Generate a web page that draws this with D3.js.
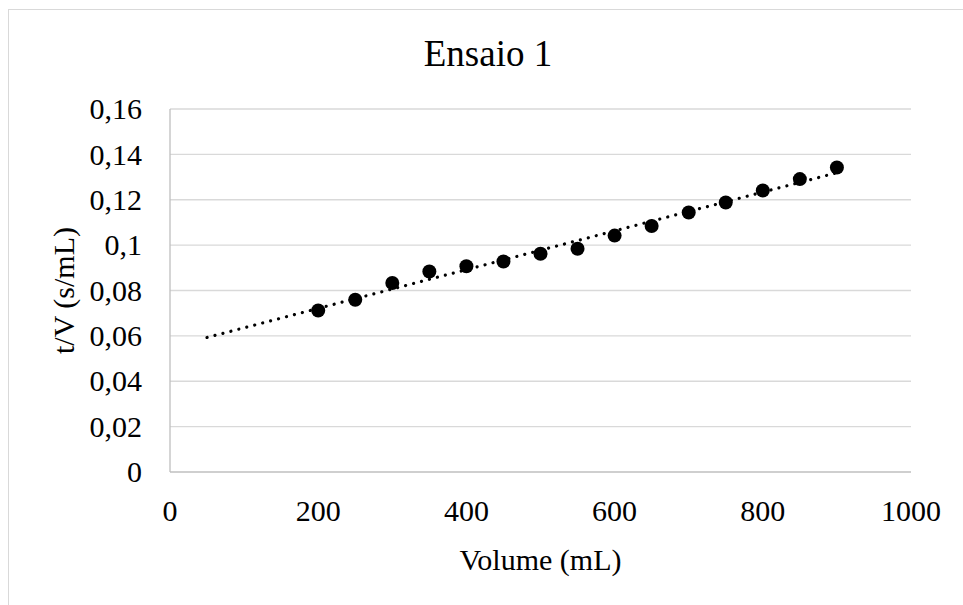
<!DOCTYPE html>
<html>
<head>
<meta charset="utf-8">
<script src="https://cdn.jsdelivr.net/npm/d3@7/dist/d3.min.js"></script>
<style>
  html, body { margin: 0; padding: 0; background: #fff; }
</style>
</head>
<body>
<svg id="chart" width="963" height="605" font-family="'Liberation Serif', 'Times New Roman', 'DejaVu Serif', serif"></svg>
<script>
// ─── Ensaio 1: t/V vs Volume ───────────────────────────
const volumes = [200, 250, 300, 350, 400, 450, 500, 550, 600, 650, 700, 750, 800, 850, 900];
const tPerV = [0.0712, 0.0759, 0.0833, 0.0884, 0.0907, 0.0928, 0.0962, 0.0984,
               0.1042, 0.1084, 0.1144, 0.1188, 0.1241, 0.1291, 0.1342];
const xTicks = [0, 200, 400, 600, 800, 1000];
const yTicks = [0, 0.02, 0.04, 0.06, 0.08, 0.1, 0.12, 0.14, 0.16];
const trendFrom = 50; // linear trendline, forecast backward to 50 mL

const SERIF = "'Liberation Serif', 'Times New Roman', serif";
const svg = d3.select('#chart');
const W = 963, H = 605;
const plot = { left: 170, right: 911, top: 109, bottom: 472 };

// chart area border (left + top visible)
svg.append('rect')
  .attr('x', 8.5).attr('y', 9.5)
  .attr('width', W + 20).attr('height', H + 20)
  .attr('fill', '#fff').attr('stroke', '#d9d9d9').attr('stroke-width', 1);

const x = d3.scaleLinear().domain([0, 1000]).range([plot.left, plot.right]);
const y = d3.scaleLinear().domain([0, 0.16]).range([plot.bottom, plot.top]);

// gridlines
svg.append('g')
  .selectAll('line')
  .data(yTicks.filter(d => d > 0))
  .enter().append('line')
  .attr('x1', plot.left).attr('x2', plot.right)
  .attr('y1', d => y(d)).attr('y2', d => y(d))
  .attr('stroke', '#d9d9d9').attr('stroke-width', 1.3);

// axes lines
svg.append('line')
  .attr('x1', plot.left).attr('x2', plot.right)
  .attr('y1', y(0)).attr('y2', y(0))
  .attr('stroke', '#bfbfbf').attr('stroke-width', 1.3);
svg.append('line')
  .attr('x1', plot.left).attr('x2', plot.left)
  .attr('y1', y(0)).attr('y2', y(0.16))
  .attr('stroke', '#bfbfbf').attr('stroke-width', 1.3);

const fmtY = d => d3.format('~g')(d).replace('.', ',');

// y tick labels
svg.append('g')
  .selectAll('text')
  .data(yTicks)
  .enter().append('text')
  .attr('x', 142)
  .attr('y', d => y(d))
  .attr('dy', '0.34em')
  .attr('text-anchor', 'end')
  .attr('font-family', SERIF)
  .attr('font-size', 30)
  .text(fmtY);

// x tick labels
svg.append('g')
  .selectAll('text')
  .data(xTicks)
  .enter().append('text')
  .attr('x', d => x(d))
  .attr('y', 521)
  .attr('text-anchor', 'middle')
  .attr('font-family', SERIF)
  .attr('font-size', 30)
  .text(d => d);

// title + axis titles
svg.append('text')
  .attr('x', 488).attr('y', 66)
  .attr('text-anchor', 'middle')
  .attr('font-family', SERIF)
  .attr('font-size', 37)
  .text('Ensaio 1');

svg.append('text')
  .attr('x', x(500)).attr('y', 570)
  .attr('text-anchor', 'middle')
  .attr('font-family', SERIF)
  .attr('font-size', 30)
  .text('Volume (mL)');

svg.append('text')
  .attr('transform', `translate(74,${(plot.top + plot.bottom) / 2}) rotate(-90)`)
  .attr('text-anchor', 'middle')
  .attr('font-family', SERIF)
  .attr('font-size', 30)
  .text('t/V (s/mL)');

// least squares trendline
const mx = d3.mean(volumes), my = d3.mean(tPerV);
const slope = d3.sum(volumes, (v, i) => (v - mx) * (tPerV[i] - my)) /
              d3.sum(volumes, v => (v - mx) * (v - mx));
const icpt = my - slope * mx;
const trendX = [trendFrom, d3.max(volumes)];

svg.append('path')
  .datum(trendX)
  .attr('d', d3.line().x(d => x(d)).y(d => y(icpt + slope * d)))
  .attr('fill', 'none')
  .attr('stroke', '#000')
  .attr('stroke-width', 3.2)
  .attr('stroke-linecap', 'round')
  .attr('stroke-dasharray', '0.01 8.2');

// markers
svg.append('g')
  .selectAll('circle')
  .data(volumes)
  .enter().append('circle')
  .attr('cx', d => x(d))
  .attr('cy', (d, i) => y(tPerV[i]))
  .attr('r', 7)
  .attr('fill', '#000');
</script>
</body>
</html>
